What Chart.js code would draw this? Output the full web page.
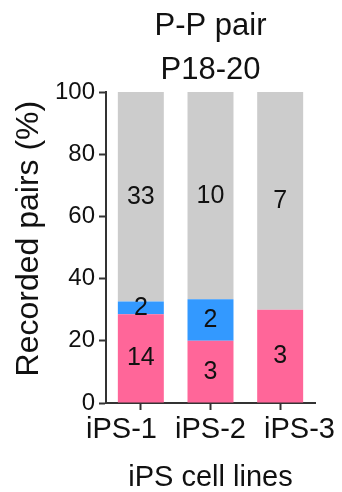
<!DOCTYPE html>
<html>
<head>
<meta charset="utf-8">
<script src="https://cdn.jsdelivr.net/npm/chart.js@4"></script>
<style>
    body { margin: 0; background: #fff; }
</style>
</head>
<body>
<canvas id="myChart" width="342" height="492"></canvas>
<script>
// iPS cell lines / recorded P-P pairs (counts written in the bars)
var cellLines = ['iPS-1', 'iPS-2', 'iPS-3'];
var pinkCounts = [14, 3, 3];
var blueCounts = [2, 2, 0];
var grayCounts = [33, 10, 7];
var yTicks = [0, 20, 40, 60, 80, 100];

var totals = cellLines.map(function (c, i) {
    return pinkCounts[i] + blueCounts[i] + grayCounts[i];
});
function toPercent(arr) {
    return arr.map(function (n, i) { return n / totals[i] * 100; });
}

var FONT = 'Arial, "Liberation Sans", sans-serif';
Chart.defaults.font.family = FONT;
Chart.defaults.color = '#111';

// count labels in the middle of each segment
var countLabels = {
    id: 'countLabels',
    afterDatasetsDraw: function (chart) {
        var c = chart.ctx;
        c.save();
        c.font = '25px ' + FONT;
        c.fillStyle = '#111';
        c.textAlign = 'center';
        c.textBaseline = 'middle';
        chart.data.datasets.forEach(function (ds, di) {
            chart.getDatasetMeta(di).data.forEach(function (bar, i) {
                var n = ds.counts[i];
                if (!n) return;
                c.fillText(String(n), bar.x, (bar.y + bar.base) / 2);
            });
        });
        c.restore();
    }
};

// category names are spread a bit wider than the bars (like the original figure)
var spreadLabels = {
    id: 'spreadLabels',
    afterDraw: function (chart) {
        var sx = chart.scales.x;
        var labels = chart.data.labels;
        var c = chart.ctx;
        var mid = (labels.length - 1) / 2;
        var step = 89;
        var cx = sx.getPixelForValue(mid);
        c.save();
        c.font = '29px ' + FONT;
        c.fillStyle = '#111';
        c.textAlign = 'center';
        c.textBaseline = 'middle';
        labels.forEach(function (lab, i) {
            c.fillText(lab, cx + (i - mid) * step, sx.top + 27);
        });
        c.restore();
    }
};

var ctx = document.getElementById('myChart').getContext('2d');
var myChart = new Chart(ctx, {
    type: 'bar',
    data: {
        labels: cellLines,
        datasets: [{
            data: toPercent(pinkCounts),
            counts: pinkCounts,
            backgroundColor: '#ff6699'
        }, {
            data: toPercent(blueCounts),
            counts: blueCounts,
            backgroundColor: '#3399ff'
        }, {
            data: toPercent(grayCounts),
            counts: grayCounts,
            backgroundColor: '#cccccc'
        }]
    },
    options: {
        responsive: false,
        animation: false,
        categoryPercentage: 1,
        barPercentage: 0.66,
        layout: { padding: { left: 0, right: 27, top: 0, bottom: 0 } },
        plugins: {
            legend: { display: false },
            tooltip: { enabled: false },
            title: {
                display: true,
                fullSize: false,
                text: ['P-P pair', 'P18-20'],
                color: '#111',
                font: { size: 31, weight: 'normal', lineHeight: 1.42 },
                padding: { top: 4, bottom: 0 }
            }
        },
        scales: {
            x: {
                stacked: true,
                afterFit: function (s) { s.height = 89; },
                grid: {
                    offset: false,
                    drawOnChartArea: false,
                    tickLength: 7,
                    color: '#333',
                    tickWidth: 2
                },
                border: { color: '#333', width: 2 },
                ticks: { display: false },
                title: {
                    display: true,
                    text: 'iPS cell lines',
                    color: '#111',
                    font: { size: 29, lineHeight: 1 },
                    padding: 0
                }
            },
            y: {
                stacked: true,
                min: 0,
                max: 100,
                afterFit: function (s) { s.width = 106; },
                afterBuildTicks: function (s) {
                    s.ticks = yTicks.map(function (v) { return { value: v }; });
                },
                grid: {
                    drawOnChartArea: false,
                    tickLength: 7,
                    color: '#333',
                    tickWidth: 2
                },
                border: { color: '#333', width: 2 },
                ticks: { font: { size: 24 }, padding: 4, color: '#111' },
                title: {
                    display: true,
                    text: '  Recorded pairs (%)',
                    color: '#111',
                    font: { size: 32, lineHeight: 1.2 },
                    padding: { top: 10, bottom: 0 }
                }
            }
        }
    },
    plugins: [countLabels, spreadLabels]
});
</script>
</body>
</html>
